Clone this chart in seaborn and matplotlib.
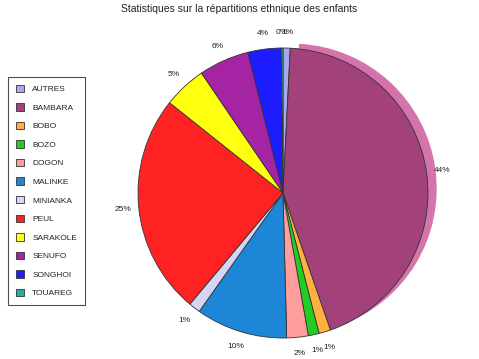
import matplotlib
matplotlib.use("Agg")
import matplotlib.pyplot as plt
import seaborn as sns

sns.set_theme(style="white")
plt.rcParams['font.family'] = ['Liberation Sans', 'DejaVu Sans']

categories = ["AUTRES", "BAMBARA", "BOBO", "BOZO", "DOGON", "MALINKE",
              "MINIANKA", "PEUL", "SARAKOLE", "SENUFO", "SONGHOI", "TOUAREG"]
values = [0.8, 43.9, 1.3, 1.2, 2.4, 10.2, 1.3, 24.6, 4.8, 5.6, 3.7, 0.2]
colors = ["#a8a8f0", "#a3427a", "#ffb040", "#22cc22", "#ff9c9c", "#1e86d6",
          "#d4d4f4", "#ff2222", "#ffff10", "#a424a4", "#1c1cff", "#22b0a8"]
title = "Statistiques sur la répartitions ethnique des enfants"

W, H = 479, 359
fig = plt.figure(figsize=(W / 100, H / 100), dpi=100)
cx, cy, R = 283, 193, 145
half = R * 1.25
ax = fig.add_axes([(cx - half) / W, (H - cy - half) / H, 2 * half / W, 2 * half / H])

# 3D rim behind the exploded slice
rim_colors = ["none"] * len(values)
rim_colors[1] = "#d474aa"
ax.pie(values, startangle=90, counterclock=False, colors=rim_colors,
       radius=1.0, center=(0.06, 0.03),
       wedgeprops=dict(edgecolor="none", linewidth=0))

wedges, texts, autotexts = ax.pie(
    values, startangle=90, counterclock=False, colors=colors,
    autopct="%.0f%%", pctdistance=1.11,
    textprops=dict(fontsize=6, color="#222222"),
    wedgeprops=dict(edgecolor="#333333", linewidth=0.6))
ax.set_xlim(-1.25, 1.25)
ax.set_ylim(-1.25, 1.25)
ax.set_aspect("equal")
ax.axis("off")

fig.text(0.5, 1 - 9 / H, title, ha="center", va="center", fontsize=7.5, color="#222222")

leg = fig.legend(wedges, categories, loc="upper left",
                 bbox_to_anchor=(8 / W, 1 - 77 / H), fontsize=6,
                 frameon=True, fancybox=False, edgecolor="#222222",
                 handlelength=1.0, handleheight=1.0, labelspacing=1.2,
                 borderpad=0.9, handletextpad=1.0, borderaxespad=0)
leg.get_frame().set_linewidth(0.8)
for t in leg.get_texts():
    t.set_color("#222222")

fig.savefig("out.png", dpi=100)
